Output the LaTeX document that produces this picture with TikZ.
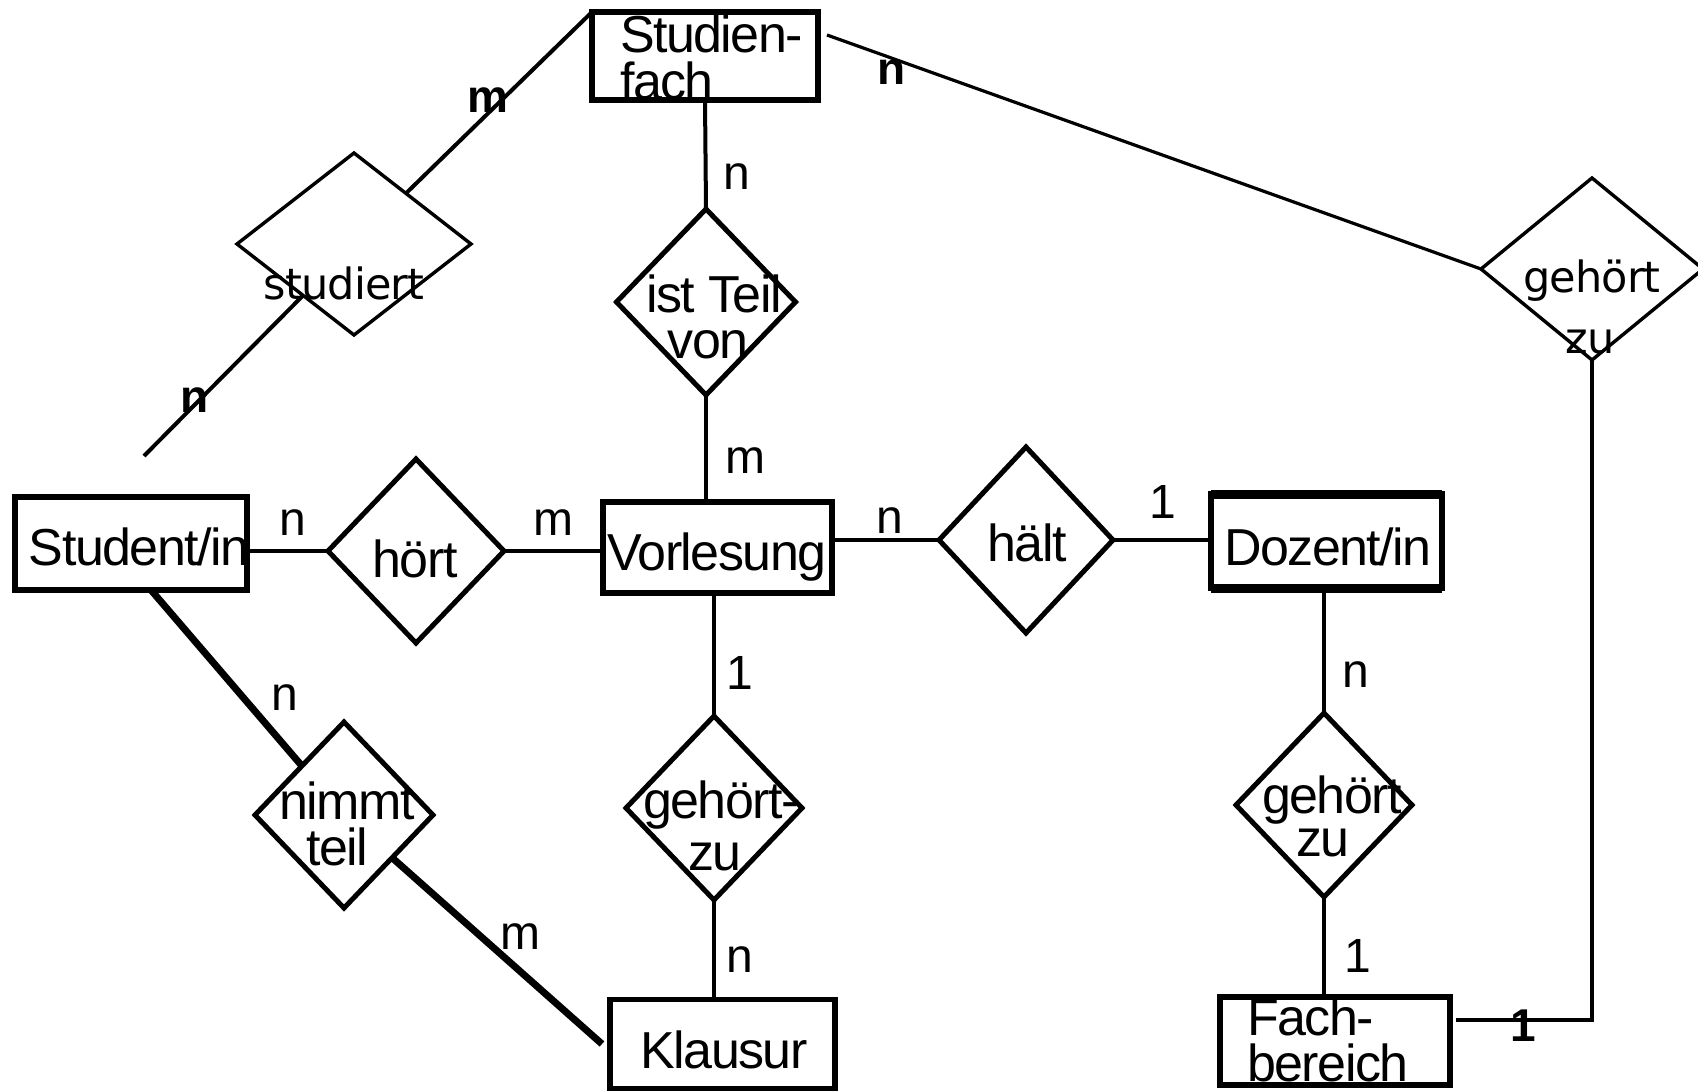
\documentclass[tikz,border=0pt]{standalone}
\usepackage{fontspec}
\setmainfont{Liberation Sans}[LetterSpace=-3]
\newfontfamily\dvsans{DejaVu Sans}[LetterSpace=-2]
\usetikzlibrary{shapes.geometric,calc}

\begin{document}
\begin{tikzpicture}[x=1pt,y=-1pt,
  ent/.style={draw, rectangle, line width=5.5pt, inner sep=0pt, outer sep=0pt},
  rel/.style={draw, diamond, line width=5pt, inner sep=0pt, outer sep=0pt},
  relthin/.style={rel, line width=3.4pt},
  conn/.style={line width=4pt},
  connthin/.style={line width=3.2pt},
  connthick/.style={line width=7pt},
  txt/.style={font=\fontsize{52}{52}\selectfont, inner sep=0pt, anchor=base},
  dvtxt/.style={font=\dvsans\fontsize{43}{43}\selectfont, inner sep=0pt, anchor=base},
  card/.style={font=\fontsize{48}{48}\selectfont, inner sep=0pt},
  cardb/.style={font=\bfseries\fontsize{46}{46}\selectfont, inner sep=0pt},
]
\useasboundingbox (0,0) rectangle (1698,1092);

% entity types
\node[ent, minimum width=226pt, minimum height=88pt] (SF) at (705,56) {};
\node[ent, minimum width=232pt, minimum height=93pt] (ST) at (131,543.5) {};
\node[ent, minimum width=229pt, minimum height=91pt] (VL) at (717.5,547.5) {};
\node[ent, minimum width=231pt, minimum height=94pt] (DZ) at (1326.5,541) {};
\node[ent, minimum width=225pt, minimum height=89pt] (KL) at (722.5,1044) {};
\node[ent, minimum width=230pt, minimum height=88pt] (FB) at (1335,1041) {};
\draw[line width=9pt] (DZ.north west) -- (DZ.north east);
\draw[line width=9pt] (DZ.south west) -- (DZ.south east);

% relationship types
\node[relthin, minimum width=234pt, minimum height=182pt] (SD) at (354,244) {};
\node[rel, minimum width=179pt, minimum height=186pt] (IT) at (706,302) {};
\node[rel, minimum width=176pt, minimum height=184pt] (HO) at (416,551) {};
\node[rel, minimum width=174pt, minimum height=186pt] (HA) at (1026,540) {};
\node[rel, minimum width=176pt, minimum height=184pt] (GZ1) at (714,808) {};
\node[rel, minimum width=176pt, minimum height=184pt] (GZ2) at (1324,805) {};
\node[rel, minimum width=178pt, minimum height=186pt] (NT) at (344,815) {};
\node[relthin, minimum width=222pt, minimum height=182pt] (GZ3) at (1592,269) {};

% texts of the entity types
\node[txt, anchor=base west] (sft1) at (620,52) {Studien-};
\node[txt, anchor=base west] (sft2) at (620,99) {fach};
\node[txt] (stt) at (139,565) {Student/in};
\node[txt] (vlt) at (717,570) {Vorlesung};
\node[txt] (dzt) at (1328,565) {Dozent/in};
\node[txt] (klt) at (724,1068) {Klausur};
\node[txt, anchor=base west] (fbt1) at (1247,1035) {Fach-};
\node[txt, anchor=base west] (fbt2) at (1247,1081) {bereich};

% texts of the relationship types
\node[dvtxt] (sdt) at (344,299) {studiert};
\node[txt] (itt1) at (714,312) {ist Teil};
\node[txt] (itt2) at (708,358) {von};
\node[txt] (hot) at (415,577) {hört};
\node[txt] (hat) at (1027,561) {hält};
\node[txt, anchor=base west] (gz1t1) at (643,818) {gehört-};
\node[txt] (gz1t2) at (715,870) {zu};
\node[txt, anchor=base west] (gz2t1) at (1262,813) {gehört};
\node[txt] (gz2t2) at (1323,856) {zu};
\node[dvtxt] (gz3t1) at (1592,292) {gehört};
\node[dvtxt] (gz3t2) at (1590,353) {zu};
\node[txt] (ntt1) at (347,819) {nimmt};
\node[txt] (ntt2) at (337,865) {teil};

% connectors
\coordinate (free) at (144,456);
\draw[conn] (SF.north west) -- (SD);
\draw[conn] (SD) -- (free);
\draw[conn] (SF.south) -- (IT.north);
\draw[conn] (IT.south) -- (IT.south |- VL.north);
\draw[conn] (HO.west -| ST.east) -- (HO.west);
\draw[conn] (HO.east) -- (HO.east -| VL.west);
\draw[conn] (HA.west -| VL.east) -- (HA.west);
\draw[conn] (HA.east) -- (HA.east -| DZ.west);
\draw[conn] (GZ2.north |- DZ.south) -- (GZ2.north);
\draw[conn] (GZ2.south) -- (GZ2.south |- FB.north);
\draw[conn] (GZ1.north |- VL.south) -- (GZ1.north);
\draw[conn] (GZ1.south) -- (GZ1.south |- KL.north);
\draw[connthick] ([xshift=20pt]ST.south) -- (NT);
\draw[connthick] (NT) -- ([xshift=-8pt]KL.west);
\draw[connthin] ($(SF.north east)+(9,23)$) -- (GZ3.west);
\draw[connthin] (GZ3.south) |- ($(FB.north east)+(6,23)$);

% cardinalities
\node[cardb] (c1) at (488,100) {m};
\node[cardb] (c2) at (195,400) {n};
\node[cardb] (c3) at (892,72) {n};
\node[cardb] (c4) at (1523,1026) {1};
\node[card] (c5) at (737,177) {n};
\node[card] (c6) at (745,461) {m};
\node[card] (c7) at (293,523) {n};
\node[card] (c8) at (553,523) {m};
\node[card] (c9) at (890,521) {n};
\node[card] (c10) at (1163,502) {1};
\node[card] (c11) at (1356,675) {n};
\node[card] (c12) at (1358,956) {1};
\node[card] (c13) at (740,673) {1};
\node[card] (c14) at (740,960) {n};
\node[card] (c15) at (285,698) {n};
\node[card] (c16) at (520,937) {m};
\end{tikzpicture}
\end{document}
